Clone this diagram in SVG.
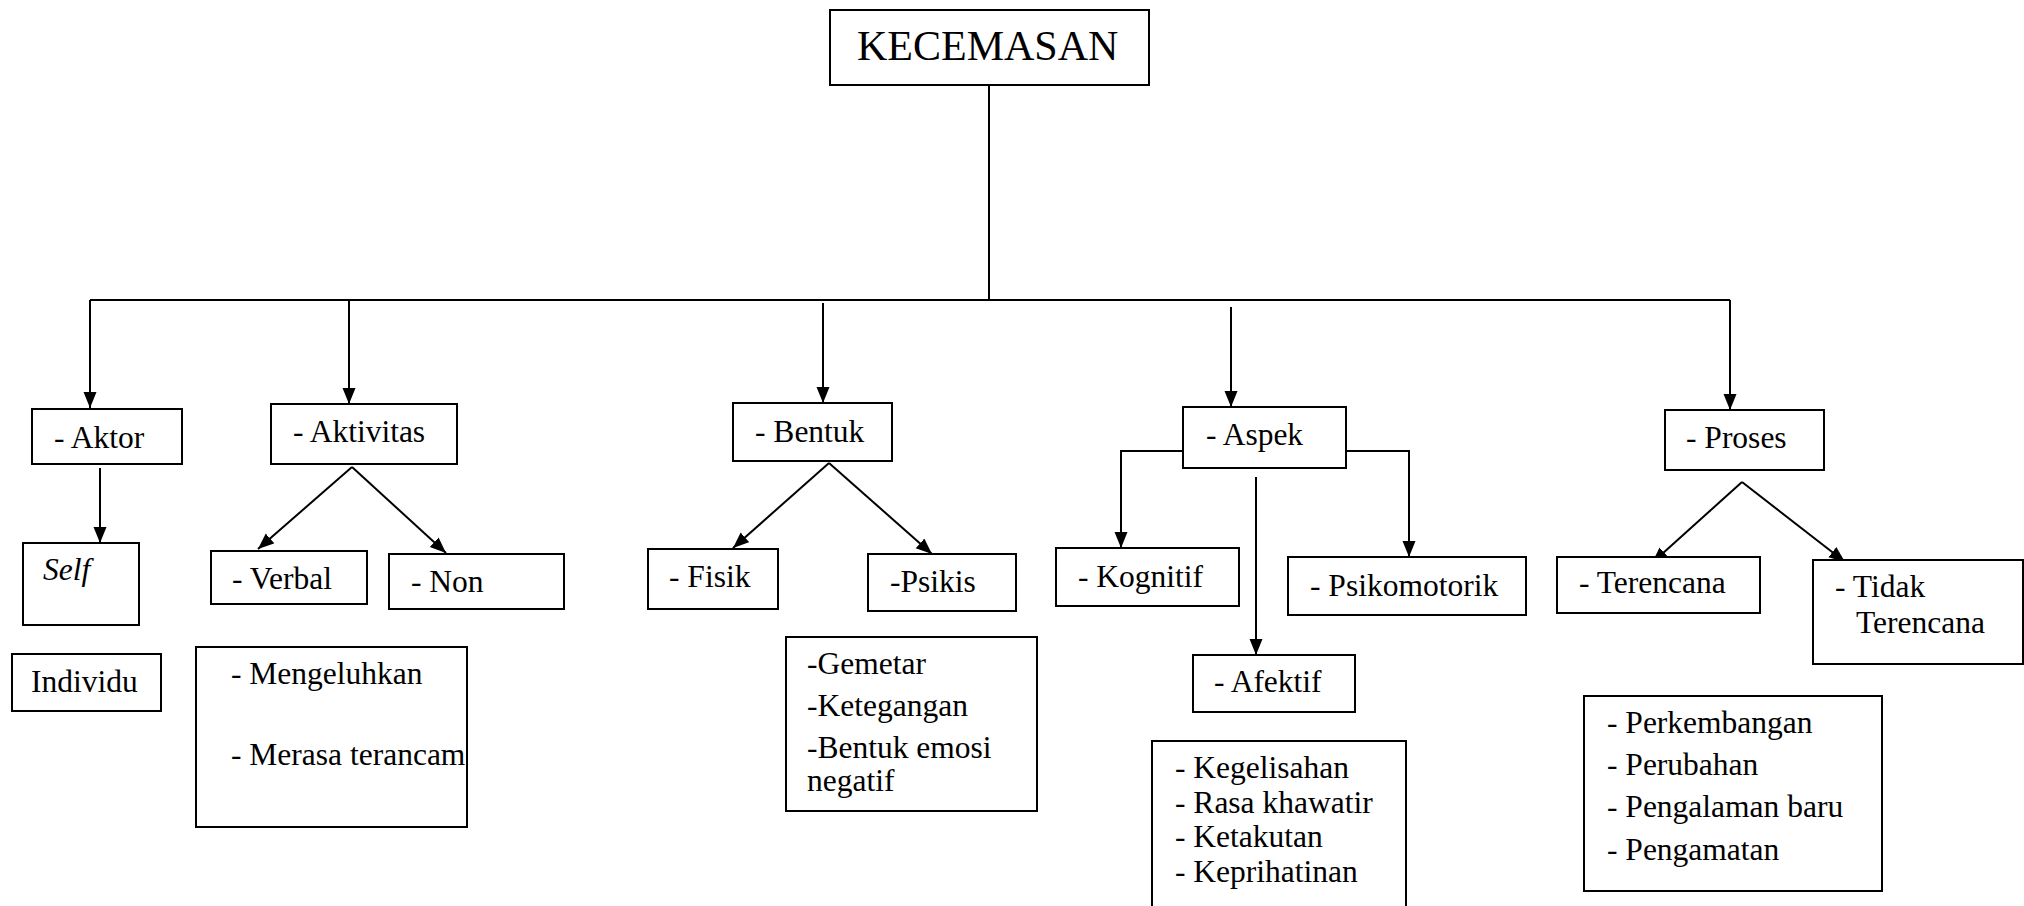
<svg xmlns="http://www.w3.org/2000/svg" width="2024" height="906" viewBox="0 0 2024 906">
  <style>
    .box { fill: #ffffff; stroke: #000000; stroke-width: 2; }
    .lbl { font-family: 'Liberation Serif', 'Times New Roman', Times, 'DejaVu Serif', serif; font-size: 31.5px; fill: #000000; }
    .title { font-family: 'Liberation Serif', 'Times New Roman', Times, 'DejaVu Serif', serif; font-size: 42px; fill: #000000; }
    .wire { fill: none; stroke: #000000; stroke-width: 2; }
    .arrow { fill: none; stroke: #000000; stroke-width: 2; marker-end: url(#head); }
  </style>
  <defs>
    <marker id="head" markerUnits="userSpaceOnUse" markerWidth="17" markerHeight="14" refX="16" refY="6.5" orient="auto">
      <path d="M0,0 L16,6.5 L0,13 z" fill="#000000"/>
    </marker>
  </defs>
  <rect width="2024" height="906" fill="#ffffff"/>

  <!-- connectors -->
  <g id="connectors">
    <path class="wire" d="M989,85 V301"/>
    <path class="wire" d="M90,300 H1730"/>
    <path class="arrow" d="M90,300 V408"/>
    <path class="arrow" d="M349,300 V404"/>
    <path class="arrow" d="M823,303 V403"/>
    <path class="arrow" d="M1231,307 V407"/>
    <path class="arrow" d="M1730,300 V410"/>
    <path class="arrow" d="M100,468 V543"/>
    <path class="arrow" d="M352,467 L258,549"/>
    <path class="arrow" d="M352,467 L446,553"/>
    <path class="arrow" d="M829,463 L733,548"/>
    <path class="arrow" d="M829,463 L932,554"/>
    <path class="arrow" d="M1183,451 H1121 V548"/>
    <path class="arrow" d="M1346,451 H1409 V557"/>
    <path class="arrow" d="M1256,477 V655"/>
    <path class="arrow" d="M1742,482 L1652,563"/>
    <path class="arrow" d="M1742,482 L1845,562"/>
  </g>

  <g id="kecemasan">
    <rect class="box" x="830" y="10" width="319" height="75"/>
    <text class="title" x="857" y="60">KECEMASAN</text>
  </g>

  <g id="aktor">
    <rect class="box" x="32" y="409" width="150" height="55"/>
    <text class="lbl" x="54" y="448">- Aktor</text>
  </g>
  <g id="self">
    <rect class="box" x="23" y="543" width="116" height="82"/>
    <text class="lbl" x="43" y="580" font-style="italic">Self</text>
  </g>
  <g id="individu">
    <rect class="box" x="12" y="654" width="149" height="57"/>
    <text class="lbl" x="31" y="692">Individu</text>
  </g>

  <g id="aktivitas">
    <rect class="box" x="271" y="404" width="186" height="60"/>
    <text class="lbl" x="293" y="442">- Aktivitas</text>
  </g>
  <g id="verbal">
    <rect class="box" x="211" y="551" width="156" height="53"/>
    <text class="lbl" x="232" y="589">- Verbal</text>
  </g>
  <g id="non">
    <rect class="box" x="389" y="554" width="175" height="55"/>
    <text class="lbl" x="411" y="592">- Non</text>
  </g>
  <g id="aktivitas-list">
    <rect class="box" x="196" y="647" width="271" height="180"/>
    <text class="lbl" x="231" y="684">- Mengeluhkan</text>
    <text class="lbl" x="231" y="765">- Merasa terancam</text>
  </g>

  <g id="bentuk">
    <rect class="box" x="733" y="403" width="159" height="58"/>
    <text class="lbl" x="755" y="442">- Bentuk</text>
  </g>
  <g id="fisik">
    <rect class="box" x="648" y="549" width="130" height="60"/>
    <text class="lbl" x="669" y="587">- Fisik</text>
  </g>
  <g id="psikis">
    <rect class="box" x="868" y="554" width="148" height="57"/>
    <text class="lbl" x="890" y="592">-Psikis</text>
  </g>
  <g id="bentuk-list">
    <rect class="box" x="786" y="637" width="251" height="174"/>
    <text class="lbl" x="807" y="674">-Gemetar</text>
    <text class="lbl" x="807" y="716">-Ketegangan</text>
    <text class="lbl" x="807" y="758">-Bentuk emosi</text>
    <text class="lbl" x="807" y="791">negatif</text>
  </g>

  <g id="aspek">
    <rect class="box" x="1183" y="407" width="163" height="61"/>
    <text class="lbl" x="1206" y="445">- Aspek</text>
  </g>
  <g id="kognitif">
    <rect class="box" x="1056" y="548" width="183" height="58"/>
    <text class="lbl" x="1078" y="587">- Kognitif</text>
  </g>
  <g id="psikomotorik">
    <rect class="box" x="1288" y="557" width="238" height="58"/>
    <text class="lbl" x="1310" y="596">- Psikomotorik</text>
  </g>
  <g id="afektif">
    <rect class="box" x="1193" y="655" width="162" height="57"/>
    <text class="lbl" x="1214" y="692">- Afektif</text>
  </g>
  <g id="afektif-list">
    <rect class="box" x="1152" y="741" width="254" height="190"/>
    <text class="lbl" x="1175" y="778">- Kegelisahan</text>
    <text class="lbl" x="1175" y="813">- Rasa khawatir</text>
    <text class="lbl" x="1175" y="847">- Ketakutan</text>
    <text class="lbl" x="1175" y="882">- Keprihatinan</text>
  </g>

  <g id="proses">
    <rect class="box" x="1665" y="410" width="159" height="60"/>
    <text class="lbl" x="1686" y="448">- Proses</text>
  </g>
  <g id="terencana">
    <rect class="box" x="1557" y="557" width="203" height="56"/>
    <text class="lbl" x="1579" y="593">- Terencana</text>
  </g>
  <g id="tidak-terencana">
    <rect class="box" x="1813" y="560" width="210" height="104"/>
    <text class="lbl" x="1835" y="597">- Tidak</text>
    <text class="lbl" x="1856" y="633">Terencana</text>
  </g>
  <g id="proses-list">
    <rect class="box" x="1584" y="696" width="298" height="195"/>
    <text class="lbl" x="1607" y="733">- Perkembangan</text>
    <text class="lbl" x="1607" y="775">- Perubahan</text>
    <text class="lbl" x="1607" y="817">- Pengalaman baru</text>
    <text class="lbl" x="1607" y="860">- Pengamatan</text>
  </g>
</svg>
